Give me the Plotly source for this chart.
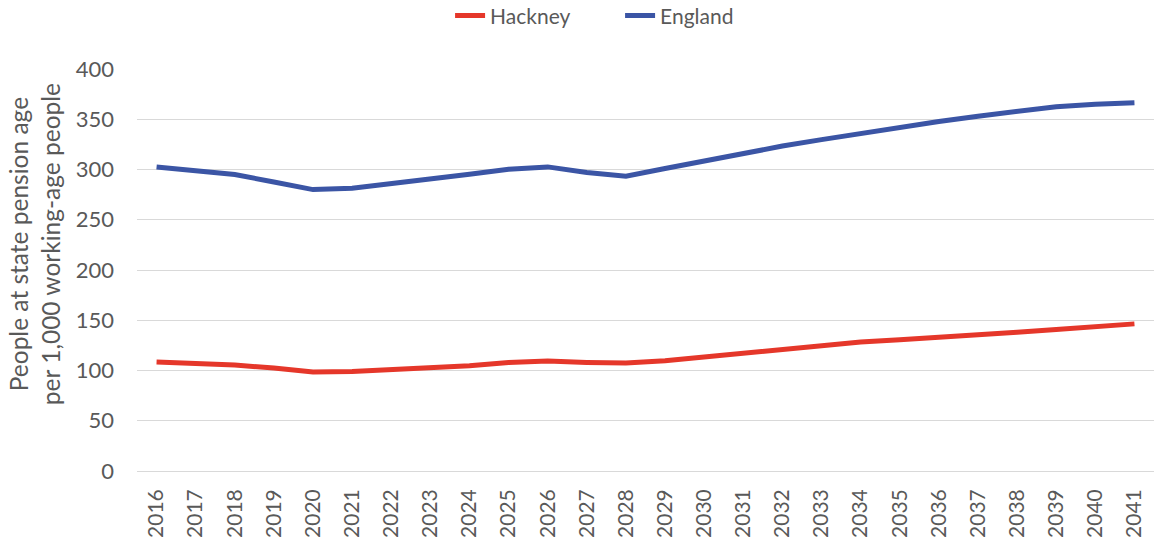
import plotly.graph_objects as go

years = [str(y) for y in range(2016, 2042)]
hackney = [108.4, 107.0, 105.4, 102.4, 98.4, 99.0, 101.0, 102.7, 104.7, 108.0, 109.4, 108.0, 107.4,
           109.7, 113.4, 117.4, 121.0, 124.7, 128.3, 130.5, 132.6, 135.2, 138.0, 140.7, 143.4, 146.4]
england = [302.6, 298.6, 295.0, 287.6, 280.0, 281.3, 285.6, 290.3, 295.3, 300.3, 302.6, 297.0, 293.3,
           301.0, 308.5, 316.0, 323.3, 329.7, 336.0, 342.0, 347.7, 353.0, 358.3, 362.5, 365.0, 366.5]
y_ticks = [0, 50, 100, 150, 200, 250, 300, 350, 400]
y_title = "People at state pension age<br>per 1,000 working-age people"

FONT = "Lato, 'Open Sans', sans-serif"
GREY = "#595959"

fig = go.Figure()
fig.add_trace(go.Scatter(x=years, y=hackney, mode="lines", name="Hackney",
                         line=dict(color="#E5372A", width=5)))
fig.add_trace(go.Scatter(x=years, y=england, mode="lines", name="England",
                         line=dict(color="#3B55A5", width=5)))

fig.update_layout(
    width=1154, height=541,
    margin=dict(l=137, r=0, t=69, b=70, autoexpand=False),
    paper_bgcolor="white", plot_bgcolor="white",
    font=dict(family=FONT, size=22, color=GREY),
    showlegend=True,
    legend=dict(orientation="h", x=0.475, xanchor="center", y=1.132, yanchor="middle",
                yref="paper", font=dict(size=21, color=GREY), entrywidth=125,
                traceorder="normal"),
    xaxis=dict(type="category", range=[-0.5, len(years) - 0.5], tickangle=-90,
               showgrid=False, ticks="", showline=False, automargin=False,
               ticklabelstandoff=13, tickfont=dict(size=21, color=GREY)),
    yaxis=dict(range=[0, 400], tickvals=y_ticks, showgrid=True, gridcolor="#D9D9D9",
               gridwidth=1, zeroline=True, zerolinecolor="#D9D9D9", zerolinewidth=1,
               showline=False, ticks="", ticklabelstandoff=22, automargin=False,
               tickfont=dict(size=22, color=GREY)),
    annotations=[dict(text=y_title, xref="paper", yref="paper",
                      x=-0.1, y=0.565, xanchor="center", yanchor="middle",
                      textangle=-90, showarrow=False,
                      font=dict(size=24.5, color=GREY, family=FONT))],
)

fig.write_html("out.html", config={"displayModeBar": False},
               post_script="document.body.style.margin='0';")
